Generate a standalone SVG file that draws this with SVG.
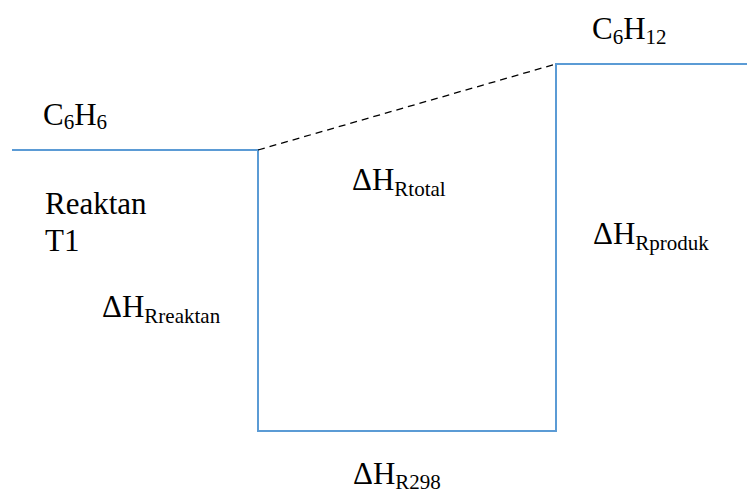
<svg xmlns="http://www.w3.org/2000/svg" width="747" height="495" viewBox="0 0 747 495">
  <style>
    .lvl { fill: none; stroke: #5B9BD5; stroke-width: 2; }
    .dash { fill: none; stroke: #000; stroke-width: 1.3; stroke-dasharray: 7 5; }
    text { font-family: "Liberation Serif", "Times New Roman", Times, "Nimbus Roman", "Noto Serif", "DejaVu Serif", serif; font-size: 31px; fill: #000; }
    .sub { font-size: 21px; }
  </style>
  <rect width="747" height="495" fill="#fff"/>
  <g id="connectors">
    <polyline class="lvl" points="12,150 258,150 258,431 556,431 556,64 747,64"/>
    <line class="dash" x1="258" y1="150" x2="556" y2="64"/>
  </g>
  <g id="benzene">
    <text x="43" y="125">C<tspan class="sub" dy="4">6</tspan><tspan dy="-4">H</tspan><tspan class="sub" dy="4">6</tspan></text>
  </g>
  <g id="cyclohexane">
    <text x="592" y="39">C<tspan class="sub" dy="5">6</tspan><tspan dy="-5">H</tspan><tspan class="sub" dy="5">12</tspan></text>
  </g>
  <g id="reaktan-t1">
    <text x="45" y="214">Reaktan</text>
    <text x="45" y="251">T1</text>
  </g>
  <g id="dh-reaktan">
    <text x="102" y="317">ΔH<tspan class="sub" dy="6">Rreaktan</tspan></text>
  </g>
  <g id="dh-total">
    <text x="352" y="190">ΔH<tspan class="sub" dy="6">Rtotal</tspan></text>
  </g>
  <g id="dh-produk">
    <text x="593" y="244">ΔH<tspan class="sub" dy="6">Rproduk</tspan></text>
  </g>
  <g id="dh-298">
    <text x="353" y="484">ΔH<tspan class="sub" dy="5">R298</tspan></text>
  </g>
</svg>
